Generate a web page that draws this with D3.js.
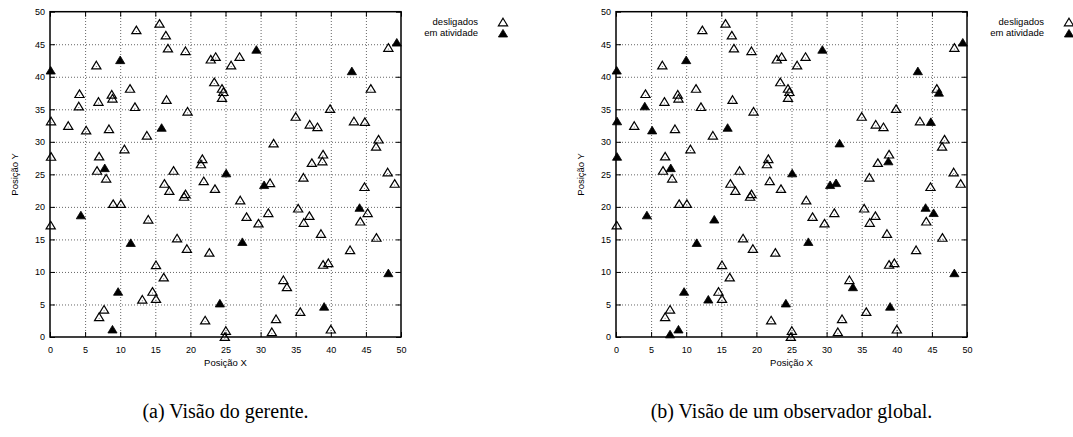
<!DOCTYPE html>
<html>
<head>
<meta charset="utf-8">
<script src="https://cdn.jsdelivr.net/npm/d3@7"></script>
<style>
  body { margin: 0; background: #fff; }
  svg text { font-family: "Liberation Sans", Arial, sans-serif; }
  .axis path { display: none; }
  .axis line { stroke: #000; stroke-width: 1; }
  .axis text { font-size: 9px; fill: #000; }
  .grid line { stroke: #666; stroke-width: 1; stroke-dasharray: 1,2; }
  .grid path { display: none; }
  .caption { font-family: "Liberation Serif", "Times New Roman", serif !important; font-size: 20px; }
</style>
</head>
<body>
<div id="chart"></div>
<script>
// nodes seen as "desligados" in both views
var desligadosComuns = [
  [15.6,48.2],[12.3,47.2],[16.5,46.4],[16.8,44.4],[19.3,44.0],[6.6,41.8],[22.9,42.7],[23.6,43.1],
  [27.0,43.1],[25.8,41.8],[23.4,39.2],[24.5,38.2],[24.7,37.7],[24.5,36.8],[4.2,37.4],[8.8,37.3],
  [8.9,36.7],[11.4,38.2],[6.9,36.2],[16.6,36.5],[12.1,35.4],[19.6,34.7],[2.6,32.5],[8.4,32.0],
  [13.8,31.0],[10.6,28.9],[7.0,27.8],[21.7,27.4],[21.5,26.6],[6.7,25.6],[17.6,25.6],[8.0,24.4],
  [48.2,44.5],[45.7,38.2],[39.9,35.1],[35.0,33.9],[37.0,32.7],[38.1,32.3],[43.3,33.2],[46.8,30.4],
  [46.45,29.3],[38.9,28.1],[37.3,26.8],[48.1,25.35],[36.1,24.55],
  [16.3,23.6],[17.0,22.5],[21.9,24.0],[23.5,22.8],[19.3,22.0],[19.1,21.6],[9.0,20.5],[10.1,20.5],
  [27.1,21.05],[0.1,17.2],[28.0,18.5],[29.7,17.5],[18.1,15.2],[19.5,13.6],[22.7,13.0],[15.1,11.1],
  [16.2,9.2],[14.6,7.0],[15.1,5.9],[7.7,4.25],[7.0,3.1],[22.1,2.6],[25.05,1.0],[24.9,0.05],
  [44.8,23.1],[49.1,23.6],[31.1,19.1],[35.35,19.8],[36.95,18.65],[36.15,17.6],[44.2,17.8],[38.6,15.9],
  [46.5,15.3],[42.75,13.4],[39.65,11.4],[38.9,11.15],[33.25,8.8],[35.65,3.9],[32.2,2.8],[31.6,0.8],
  [40.0,1.2]
];

// nodes active in both views
var ativosComuns = [
  [29.4,44.2],[49.4,45.3],[43.0,40.9],[10.0,42.6],[0.1,41.0],[15.9,32.2],[7.8,26.0],[25.1,25.2],
  [30.5,23.4],[4.4,18.75],[11.5,14.5],[27.4,14.65],[44.1,19.9],[48.2,9.85],[9.7,7.0],[24.2,5.2],
  [39.05,4.7],[8.9,1.2]
];

// the manager thinks these are off, the global observer sees them active
var ativosSoGlobal = [
  [4.1,35.5],[0.15,33.2],[5.15,31.8],[0.15,27.75],[44.85,33.1],[31.85,29.8],[38.8,27.05],[14.0,18.1],
  [13.15,5.8],[31.35,23.7],[45.25,19.1],[33.75,7.7]
];

// active nodes the manager does not know about
var extrasGlobal = [[46.0,37.6],[7.7,0.45]];

var xTicks = [0,5,10,15,20,25,30,35,40,45,50],
    yTicks = [0,5,10,15,20,25,30,35,40,45,50];

var svg = d3.select("#chart")
            .append("svg")
                .attr("width", 1073)
                .attr("height", 437);

var width = 351,
    height = 325.3;

var x = d3.scaleLinear().domain([0, 50]).range([0, width]),
    y = d3.scaleLinear().domain([0, 50]).range([height, 0]);

function triangle(cx, cy) {
  var w = 4.6, h = 3.8;
  return "M" + cx + "," + (cy - h) + "L" + (cx + w) + "," + (cy + h) + "L" + (cx - w) + "," + (cy + h) + "Z";
}

function drawPanel(left, desligados, ativos, caption) {
  var g = svg.append("g")
      .attr("transform", "translate(" + left + ",11.7)");

  // dotted grid
  g.append("g")
      .attr("class", "grid")
      .attr("transform", "translate(0," + height + ")")
      .call(d3.axisBottom(x).tickValues(xTicks.slice(1, -1)).tickSize(-height).tickFormat(""));
  g.append("g")
      .attr("class", "grid")
      .call(d3.axisLeft(y).tickValues(yTicks.slice(1, -1)).tickSize(-width).tickFormat(""));

  // axes, ticks pointing inwards on all four sides
  g.append("g")
      .attr("class", "axis")
      .attr("transform", "translate(0," + height + ")")
      .call(d3.axisBottom(x).tickValues(xTicks).tickSize(-5).tickPadding(10));
  g.append("g")
      .attr("class", "axis")
      .call(d3.axisTop(x).tickValues(xTicks).tickSize(-5).tickFormat(""));
  g.append("g")
      .attr("class", "axis")
      .call(d3.axisLeft(y).tickValues(yTicks).tickSize(-5).tickPadding(5));
  g.append("g")
      .attr("class", "axis")
      .attr("transform", "translate(" + width + ",0)")
      .call(d3.axisRight(y).tickValues(yTicks).tickSize(-5).tickFormat(""));

  g.append("rect")
      .attr("width", width)
      .attr("height", height)
      .attr("fill", "none")
      .attr("stroke", "#000")
      .attr("stroke-width", 1.5);

  // axis titles
  g.append("text")
      .attr("x", width / 2)
      .attr("y", height + 29.5)
      .attr("text-anchor", "middle")
      .style("font-size", "9.5px")
      .text("Posição X");
  g.append("text")
      .attr("transform", "translate(" + (-32) + "," + (height / 2) + ") rotate(-90)")
      .attr("text-anchor", "middle")
      .style("font-size", "9.5px")
      .text("Posição Y");

  // points
  g.selectAll(".off")
      .data(desligados)
    .enter().append("path")
      .attr("class", "off")
      .attr("d", function(d) { return triangle(x(d[0]), y(d[1])); })
      .attr("fill", "none")
      .attr("stroke", "#000")
      .attr("stroke-width", 1.2)
      .attr("stroke-linejoin", "miter");
  g.selectAll(".dot")
      .data(desligados)
    .enter().append("circle")
      .attr("class", "dot")
      .attr("cx", function(d) { return x(d[0]); })
      .attr("cy", function(d) { return y(d[1]) + 1.5; })
      .attr("r", 0.5)
      .attr("fill", "#555");
  g.selectAll(".on")
      .data(ativos)
    .enter().append("path")
      .attr("class", "on")
      .attr("d", function(d) { return triangle(x(d[0]), y(d[1])); })
      .attr("fill", "#000")
      .attr("stroke", "#000")
      .attr("stroke-width", 0.8);

  // legend
  var legend = g.append("g")
      .attr("transform", "translate(" + (width + 77) + ",0)");
  legend.append("text")
      .attr("x", 0)
      .attr("y", 13.5)
      .attr("text-anchor", "end")
      .style("font-size", "9.5px")
      .text("desligados");
  legend.append("text")
      .attr("x", 0)
      .attr("y", 24.5)
      .attr("text-anchor", "end")
      .style("font-size", "9.5px")
      .text("em atividade");
  legend.append("path")
      .attr("d", triangle(25, 10.3))
      .attr("fill", "none")
      .attr("stroke", "#000")
      .attr("stroke-width", 1.2);
  legend.append("path")
      .attr("d", triangle(25, 21.5))
      .attr("fill", "#000")
      .attr("stroke", "#000")
      .attr("stroke-width", 0.8);

  // caption
  g.append("text")
      .attr("class", "caption")
      .attr("x", width / 2)
      .attr("y", 406)
      .attr("text-anchor", "middle")
      .text(caption);
}

drawPanel(50, desligadosComuns.concat(ativosSoGlobal), ativosComuns, "(a) Visão do gerente.");
drawPanel(616, desligadosComuns, ativosComuns.concat(ativosSoGlobal, extrasGlobal), "(b) Visão de um observador global.");
</script>
</body>
</html>
